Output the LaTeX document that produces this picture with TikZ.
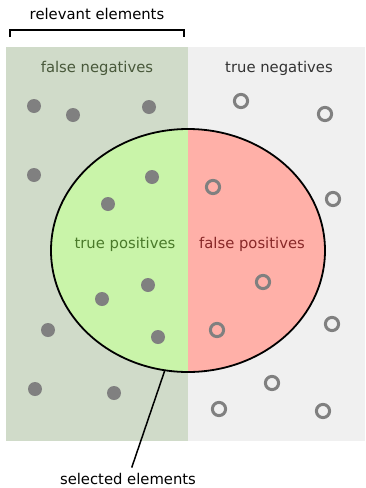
\documentclass[tikz,border=0pt]{standalone}
\usepackage{fontspec}
\setmainfont{DejaVu Sans}
\usetikzlibrary{shapes.geometric}
\definecolor{fnback}{RGB}{208,219,201}
\definecolor{tnback}{RGB}{240,240,240}
\definecolor{tpfill}{RGB}{201,244,169}
\definecolor{fpfill}{RGB}{255,176,168}
\definecolor{dotgray}{RGB}{128,128,128}
\tikzstyle{area label}=[
    font = \fontsize{14.8}{17}\selectfont,
    inner sep = 1pt
]
\tikzstyle{hit}=[
    fill = dotgray,
    draw = none
]
\tikzstyle{miss}=[
    draw = dotgray,
    line width = 3pt,
    fill = none
]

\begin{document}
\begin{tikzpicture}[x=1pt, y=-1pt, thick,
    sel/.style = {draw, ellipse, line width = 1.8pt, inner sep = 0pt,
        minimum width = 274pt, minimum height = 243pt}]
        \useasboundingbox (0,0) rectangle (366,488);

        % the two halves of the population
        \fill[fnback] (6,47) rectangle (188,441);
        \fill[tnback] (188,47) rectangle (365,441);

        \node[sel, path picture = {
            \fill[tpfill] (path picture bounding box.south west) rectangle (path picture bounding box.north);
            \fill[fpfill] (path picture bounding box.south) rectangle (path picture bounding box.north east);
        }] (selected) at (188,250.5) {};

        \node[area label] (rel) at (97,14) {relevant elements};
        \draw[line width = 1.5pt] (10,37) -- (10,30) -- (184,30) -- (184,37);

        \node[area label, text = {rgb,255:red,72;green,88;blue,58}] (fn) at (97,68) {false negatives};
        \node[area label, text = {rgb,255:red,51;green,51;blue,51}] (tn) at (279,68) {true negatives};
        \node[area label, text = {rgb,255:red,74;green,122;blue,42}] (tp) at (125,244) {true positives};
        \node[area label, text = {rgb,255:red,136;green,40;blue,40}] (fp) at (252,244) {false positives};

        % relevant items
        \foreach \x/\y in {34/106, 73/115, 149/107, 34/175, 152/177, 108/204,
            102/299, 148/285, 158/337, 48/330, 35/389, 114/393}
            \fill[hit] (\x,\y) circle (7);

        % irrelevant items
        \foreach \x/\y in {241/101, 325/114, 213/187, 333/199, 263/282,
            217/330, 332/324, 272/383, 219/409, 323/411}
            \draw[miss] (\x,\y) circle (6.6);

        \node[area label] (sellbl) at (128,478.5) {selected elements};
        \draw[-, line width = 1.5pt, shorten > = 4pt] (selected.259) -- (sellbl);

    \end{tikzpicture}
\end{document}
